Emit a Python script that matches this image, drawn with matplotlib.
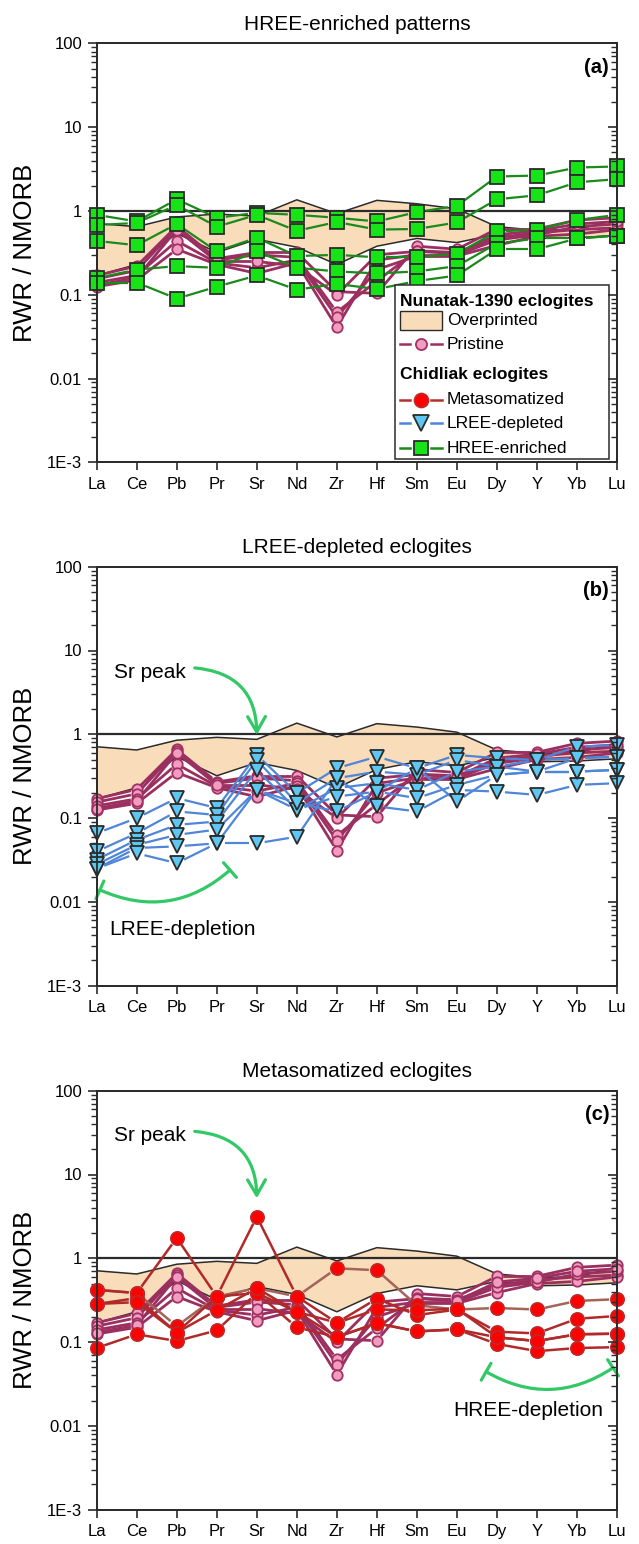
import numpy as np
import matplotlib
matplotlib.use('Agg')
import matplotlib.pyplot as plt
from matplotlib.patches import Rectangle
from matplotlib.lines import Line2D
from matplotlib.ticker import LogLocator, NullFormatter, NullLocator

plt.rcParams['font.family'] = ['Liberation Sans', 'DejaVu Sans']
plt.rcParams['lines.scale_dashes'] = False

# ---- data (RWR / NMORB) ----
elements = ['La', 'Ce', 'Pb', 'Pr', 'Sr', 'Nd', 'Zr', 'Hf', 'Sm', 'Eu', 'Dy', 'Y', 'Yb', 'Lu']

overprinted_upper = [0.71, 0.65, 0.85, 0.92, 0.87, 1.36, 0.93, 1.34, 1.22, 1.06, 0.65, 0.59, 0.60, 0.79]
overprinted_lower = [0.17, 0.23, 0.54, 0.32, 0.46, 0.37, 0.23, 0.38, 0.47, 0.42, 0.53, 0.47, 0.48, 0.51]

pristine = [
    [0.170, 0.220, 0.66, 0.27, 0.32, 0.32, 0.109, 0.104, 0.38, 0.35, 0.61, 0.61, 0.78, 0.83],
    [0.155, 0.195, 0.63, 0.26, 0.30, 0.28, 0.062, 0.146, 0.335, 0.32, 0.48, 0.55, 0.60, 0.63],
    [0.140, 0.170, 0.44, 0.24, 0.21, 0.26, 0.054, 0.20, 0.29, 0.29, 0.39, 0.50, 0.53, 0.60],
    [0.125, 0.150, 0.35, 0.23, 0.18, 0.24, 0.041, 0.26, 0.30, 0.30, 0.45, 0.52, 0.65, 0.70],
    [0.130, 0.160, 0.60, 0.25, 0.25, 0.22, 0.100, 0.30, 0.33, 0.31, 0.52, 0.58, 0.70, 0.75],
]

hree_enriched = [
    [0.90, 0.75, 1.38, 0.83, 0.95, 0.90, 0.83, 0.75, 0.97, 1.15, 2.58, 2.65, 3.30, 3.40],
    [0.68, 0.72, 1.18, 0.65, 0.90, 0.58, 0.74, 0.60, 0.61, 0.73, 1.38, 1.54, 2.20, 2.40],
    [0.44, 0.39, 0.70, 0.33, 0.48, 0.29, 0.30, 0.28, 0.28, 0.31, 0.57, 0.60, 0.78, 0.90],
    [0.158, 0.20, 0.22, 0.21, 0.33, 0.21, 0.19, 0.18, 0.19, 0.22, 0.41, 0.47, 0.47, 0.51],
    [0.14, 0.14, 0.09, 0.125, 0.17, 0.115, 0.135, 0.117, 0.146, 0.17, 0.35, 0.35, 0.47, 0.51],
]

lree_depleted = [
    [0.066, 0.100, 0.173, 0.132, 0.567, 0.199, 0.394, 0.541, 0.394, 0.567, 0.518, 0.494, 0.711, 0.746],
    [0.040, 0.066, 0.120, 0.109, 0.494, 0.151, 0.299, 0.359, 0.328, 0.494, 0.411, 0.494, 0.518, 0.541],
    [0.032, 0.055, 0.083, 0.091, 0.376, 0.126, 0.228, 0.261, 0.217, 0.359, 0.411, 0.359, 0.518, 0.541],
    [0.028, 0.048, 0.063, 0.073, 0.217, 0.126, 0.181, 0.207, 0.173, 0.249, 0.328, 0.359, 0.359, 0.376],
    [0.025, 0.044, 0.046, 0.050, 0.050, 0.060, 0.299, 0.138, 0.120, 0.217, 0.207, 0.189, 0.249, 0.261],
    [0.025, 0.038, 0.029, 0.050, 0.217, 0.151, 0.120, 0.207, 0.394, 0.158, 0.328, 0.359, 0.359, 0.376],
]

metasomatized = [
    [0.42, 0.385, 0.155, 0.35, 0.44, 0.35, 0.76, 0.72, 0.275, 0.245, 0.255, 0.245, 0.31, 0.325],
    [0.285, 0.335, 0.13, 0.35, 3.14, 0.35, 0.17, 0.33, 0.21, 0.245, 0.133, 0.127, 0.19, 0.205],
    [0.42, 0.385, 1.75, 0.35, 0.385, 0.23, 0.17, 0.245, 0.24, 0.25, 0.114, 0.103, 0.124, 0.126],
    [0.085, 0.124, 0.103, 0.138, 0.385, 0.15, 0.115, 0.168, 0.134, 0.142, 0.095, 0.078, 0.085, 0.087],
    [0.285, 0.30, 0.13, 0.24, 0.44, 0.23, 0.115, 0.168, 0.134, 0.142, 0.114, 0.103, 0.124, 0.126],
]
meta_line_colors = ['#a3645a', '#b02a2a', '#b02a2a', '#b02a2a', '#b02a2a']

ytick_vals = [1e-3, 1e-2, 1e-1, 1, 10, 100]
ytick_labels = ['1E-3', '0.01', '0.1', '1', '10', '100']

# ---- styles ----
BAND_FC = '#f9dcb9'
PINK_LINE, PINK_FACE, PINK_EDGE = '#9b2f5f', '#f29cc2', '#a03262'
GREEN_LINE, GREEN_FACE = '#1a8a1a', '#16e416'
BLUE_LINE, BLUE_FACE = '#4f86d9', '#5ec6f2'
RED_FACE, RED_EDGE = '#ff0000', '#c02828'
DARK = '#2b2b2b'
ARROW = '#33c866'

W, H = 639, 1544
fig = plt.figure(figsize=(W / 100, H / 100), dpi=100)
x = np.arange(len(elements))


def make_axes(top, bottom):
    left, right = 96.7, 617.0
    return fig.add_axes([left / W, 1 - bottom / H, (right - left) / W, (bottom - top) / H])


def setup(ax, title, label):
    ax.set_yscale('log')
    ax.set_ylim(1e-3, 100)
    ax.set_xlim(0, 13)
    ax.set_xticks(x)
    ax.set_xticklabels(elements)
    ax.xaxis.set_minor_locator(NullLocator())
    ax.set_yticks(ytick_vals)
    ax.set_yticklabels(ytick_labels)
    ax.yaxis.set_minor_locator(LogLocator(base=10, subs=np.arange(2, 10)))
    ax.yaxis.set_minor_formatter(NullFormatter())
    ax.tick_params(axis='y', which='major', length=6.5, width=1.2, labelsize=12, pad=4, color=DARK)
    ax.tick_params(axis='y', which='minor', length=4, width=1.0, color=DARK)
    ax.tick_params(axis='x', length=5.5, width=1.2, labelsize=12, pad=5, color=DARK)
    for s in ax.spines.values():
        s.set_linewidth(1.3)
        s.set_color(DARK)
    ax.axhline(1, color=DARK, lw=1.6, zorder=3)
    ax.set_title(title, fontsize=15, pad=10)
    ax.set_ylabel('RWR / NMORB', fontsize=18.5)
    ax.yaxis.set_label_coords(-0.115, 0.5)
    ax.text(0.985, 0.965, label, transform=ax.transAxes, ha='right', va='top',
            fontsize=14.5, fontweight='bold')

    # right-hand axis with inward ticks
    ax2 = ax.twinx()
    ax2.set_yscale('log')
    ax2.set_ylim(1e-3, 100)
    ax2.set_yticks(ytick_vals)
    ax2.yaxis.set_minor_locator(LogLocator(base=10, subs=np.arange(2, 10)))
    ax2.yaxis.set_minor_formatter(NullFormatter())
    ax2.tick_params(axis='y', which='both', direction='in', labelright=False, color=DARK)
    ax2.tick_params(axis='y', which='major', length=6.5, width=1.2)
    ax2.tick_params(axis='y', which='minor', length=4, width=1.0)
    for s in ax2.spines.values():
        s.set_linewidth(1.3)
        s.set_color(DARK)


def gap_line(ax, xs, ys, gap, **kw):
    # line segments that stop short of each symbol
    pts = ax.transData.transform(np.column_stack([xs, ys]))
    inv = ax.transData.inverted()
    for p0, p1 in zip(pts[:-1], pts[1:]):
        d = p1 - p0
        L = np.hypot(*d)
        if L <= 2 * gap + 1:
            continue
        u = d / L
        seg = inv.transform(np.array([p0 + u * gap, p1 - u * gap]))
        ax.plot(seg[:, 0], seg[:, 1], solid_capstyle='butt', **kw)


def draw_band(ax):
    ax.fill_between(x, overprinted_lower, overprinted_upper, facecolor=BAND_FC,
                    edgecolor='none', zorder=1)
    ax.plot(x, overprinted_upper, color=DARK, lw=1.1, zorder=2)
    ax.plot(x, overprinted_lower, color=DARK, lw=1.1, zorder=2)


def draw_group(ax, samples, marker, ms, face, edge, colors, lw, gap, z):
    for s, c in zip(samples, colors):
        gap_line(ax, x, s, gap, color=c, lw=lw, zorder=z)
    for s in samples:
        ax.plot(x, s, ls='none', marker=marker, ms=ms, mfc=face, mec=edge, mew=1.3,
                clip_on=False, zorder=z + 1)


def draw_pristine(ax):
    draw_group(ax, pristine, 'o', 7.5, PINK_FACE, PINK_EDGE, [PINK_LINE] * len(pristine),
               2.0, 6, 4)


panels = [(43.4, 462.4), (566.7, 985.7), (1090.7, 1509.7)]
titles = ['HREE-enriched patterns', 'LREE-depleted eclogites', 'Metasomatized eclogites']
labels = ['(a)', '(b)', '(c)']
axes = []
for (top, bot), t, lab in zip(panels, titles, labels):
    ax = make_axes(top, bot)
    setup(ax, t, lab)
    draw_band(ax)
    draw_pristine(ax)
    axes.append(ax)

ax_a, ax_b, ax_c = axes

draw_group(ax_a, hree_enriched, 's', 9.5, GREEN_FACE, DARK, [GREEN_LINE] * len(hree_enriched),
           1.6, 9, 6)
draw_group(ax_b, lree_depleted, 'v', 10, BLUE_FACE, DARK, [BLUE_LINE] * len(lree_depleted),
           1.6, 8, 6)
draw_group(ax_c, metasomatized, 'o', 9.5, RED_FACE, RED_EDGE, meta_line_colors, 1.8, 8, 6)

# ---- legend (panel a), built by hand so the headings sit flush left ----
leg_fs = 12.5
ax_a.add_patch(Rectangle((0.573, 0.008), 0.412, 0.415, transform=ax_a.transAxes,
                         facecolor='white', edgecolor=DARK, lw=1.1, zorder=20))
hx0, hx1, tx = 0.583, 0.663, 0.673
rows = {'h1': 0.3835, 'over': 0.3384, 'pris': 0.2821, 'h2': 0.2100,
        'meta': 0.1496, 'lree': 0.0931, 'hree': 0.0337}
ax_a.text(hx0, rows['h1'], 'Nunatak-1390 eclogites', transform=ax_a.transAxes, fontsize=leg_fs,
          fontweight='bold', va='center', zorder=21)
ax_a.text(hx0, rows['h2'], 'Chidliak eclogites', transform=ax_a.transAxes, fontsize=leg_fs,
          fontweight='bold', va='center', zorder=21)
ax_a.add_patch(Rectangle((hx0, rows['over'] - 0.0218), hx1 - hx0, 0.0437, transform=ax_a.transAxes,
                         facecolor=BAND_FC, edgecolor=DARK, lw=1.0, zorder=21))
ax_a.text(tx, rows['over'], 'Overprinted', transform=ax_a.transAxes, fontsize=leg_fs,
          va='center', zorder=21)

entries = [
    ('pris', 'Pristine', PINK_LINE, 'o', 8, PINK_FACE, PINK_EDGE),
    ('meta', 'Metasomatized', '#b5302a', 'o', 10, RED_FACE, RED_EDGE),
    ('lree', 'LREE-depleted', BLUE_LINE, 'v', 11, BLUE_FACE, DARK),
    ('hree', 'HREE-enriched', GREEN_LINE, 's', 9.5, GREEN_FACE, DARK),
]
xm = (hx0 + hx1) / 2
for key, name, lc, mk, ms, fc, ec in entries:
    y = rows[key]
    for xa, xb in [(hx0, xm - 0.020), (xm + 0.020, hx1)]:
        ax_a.add_line(Line2D([xa, xb], [y, y], transform=ax_a.transAxes, color=lc, lw=1.8,
                             zorder=21))
    ax_a.add_line(Line2D([xm], [y], transform=ax_a.transAxes, ls='none', marker=mk, ms=ms,
                         mfc=fc, mec=ec, mew=1.3, zorder=22))
    ax_a.text(tx, y, name, transform=ax_a.transAxes, fontsize=leg_fs, va='center', zorder=21)

# ---- annotations ----
head = '->,head_length=0.55,head_width=0.32'
for ax, ytxt, ystart, ytip in [(ax_b, 5.5, 6.2, 0.98), (ax_c, 29.0, 32.7, 5.2)]:
    ax.text(1.33, ytxt, 'Sr peak', ha='center', va='center', fontsize=15)
    ax.annotate('', xy=(4.0, ytip), xytext=(2.45, ystart),
                arrowprops=dict(arrowstyle=head, color=ARROW, lw=2.3, mutation_scale=20,
                                connectionstyle='arc3,rad=-0.45', shrinkA=0, shrinkB=0))

bracket = '|-|,widthA=0.35,widthB=0.35'
ax_b.annotate('', xy=(3.33, 0.024), xytext=(0.08, 0.0139),
              arrowprops=dict(arrowstyle=bracket, color=ARROW, lw=2.3, mutation_scale=20,
                              connectionstyle='arc3,rad=0.32', shrinkA=0, shrinkB=0))
ax_b.text(2.15, 0.0047, 'LREE-depletion', ha='center', va='center', fontsize=15)

ax_c.annotate('', xy=(12.9, 0.0494), xytext=(9.73, 0.0443),
              arrowprops=dict(arrowstyle=bracket, color=ARROW, lw=2.3, mutation_scale=20,
                              connectionstyle='arc3,rad=0.31', shrinkA=0, shrinkB=0))
ax_c.text(10.78, 0.0152, 'HREE-depletion', ha='center', va='center', fontsize=15)

fig.savefig('out.png', dpi=100)
